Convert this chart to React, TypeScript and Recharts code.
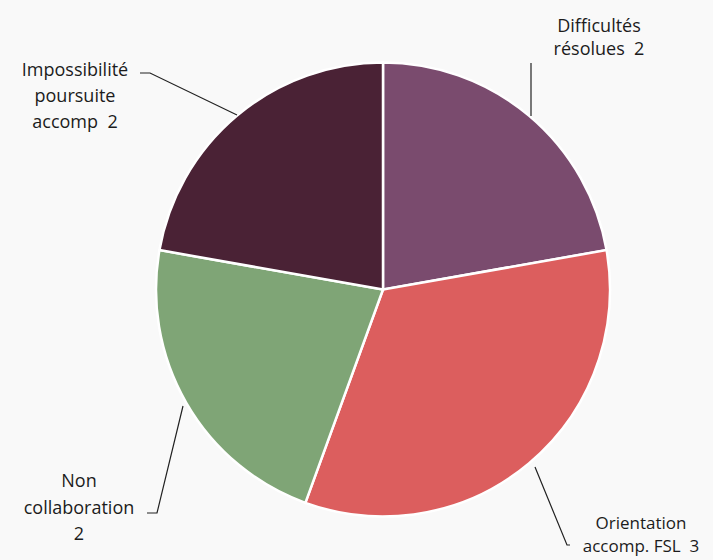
import React from "react";
import { PieChart, Pie, Cell } from "recharts";

const categories = [
  "Difficultés résolues",
  "Orientation accomp. FSL",
  "Non collaboration",
  "Impossibilité poursuite accomp",
];
const values = [2, 3, 2, 2];
const labelLines = [
  ["Difficultés", "résolues\u00a0 2"],
  ["Orientation", "accomp. FSL\u00a0 3"],
  ["Non", "collaboration", "2"],
  ["Impossibilité", "poursuite", "accomp\u00a0 2"],
];
const colors = ["#7a4b6e", "#dc5e5e", "#7fa576", "#4a2235"];

const data = categories.map((name, i) => ({ name, value: values[i] }));

// label layout: text centre x, first line y, line height, leader polyline points
const layout = [
  { x: 599, y: 25, lh: 23, pts: [[531, 63], [531, 116]] },
  { x: 641, y: 522, lh: 23, pts: [[535, 467], [567, 545], [570, 545]] },
  { x: 79, y: 480, lh: 26.5, pts: [[147, 513], [157, 513], [183, 406]] },
  { x: 75, y: 69, lh: 26, pts: [[140, 73], [150, 73], [237, 115]] },
];

const FONT = "'Open Sans', Lato, sans-serif";

const renderLabel = (props: any) => {
  const i = props.index;
  const l = layout[i];
  const lines = labelLines[i];
  return (
    <g key={"lbl" + i}>
      <polyline
        points={l.pts.map((p) => p.join(",")).join(" ")}
        fill="none"
        stroke="#222"
        strokeWidth={1.2}
      />
      {lines.map((t, k) => (
        <text
          key={k}
          x={l.x}
          y={l.y + k * l.lh}
          textAnchor="middle"
          dominantBaseline="central"
          fontFamily={FONT}
          fontSize={i === 1 ? 17 : 18}
          fill="#1c1c1c"
        >
          {t}
        </text>
      ))}
    </g>
  );
};

export default function App() {
  return (
    <div
      style={{
        position: "absolute",
        left: 0,
        top: 0,
        width: 713,
        height: 560,
        background: "#f9f9f9",
      }}
    >
      <PieChart width={713} height={560} margin={{ top: 0, right: 0, bottom: 0, left: 0 }}>
        <Pie
          data={data}
          dataKey="value"
          nameKey="name"
          cx={383}
          cy={289.5}
          outerRadius={227}
          startAngle={90}
          endAngle={-270}
          stroke="#ffffff"
          strokeWidth={2.5}
          label={renderLabel}
          labelLine={false}
          isAnimationActive={false}
        >
          {data.map((d, i) => (
            <Cell key={d.name} fill={colors[i]} />
          ))}
        </Pie>
      </PieChart>
    </div>
  );
}
